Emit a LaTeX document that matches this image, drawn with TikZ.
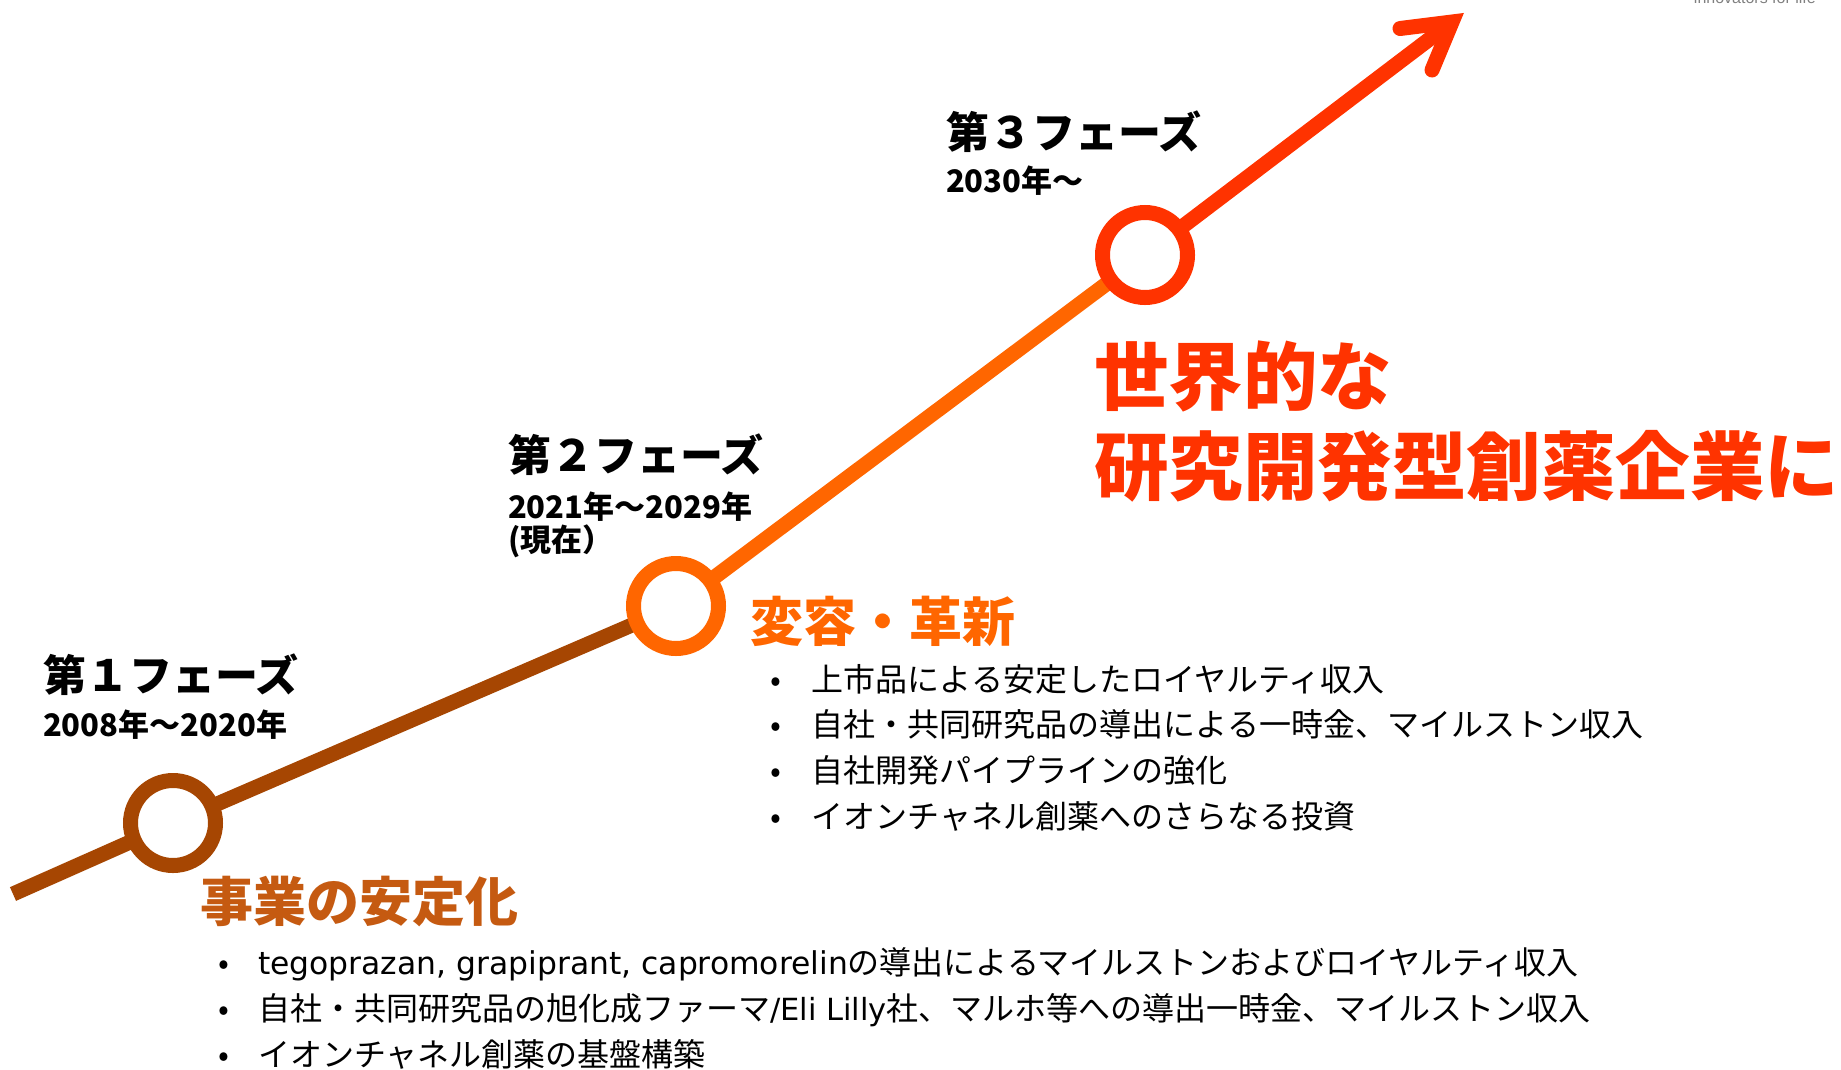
\documentclass[tikz,border=0pt]{standalone}
\usepackage{fontspec}
\setmainfont{Noto Sans CJK JP}
\newfontfamily\logofont{Liberation Sans}
\newfontfamily\latinfont{DejaVu Sans}
\definecolor{cbrown}{RGB}{166,70,2}
\definecolor{corange}{RGB}{255,102,0}
\definecolor{cred}{RGB}{255,51,0}
\definecolor{ctitleone}{RGB}{197,90,17}
\begin{document}
\begin{tikzpicture}[x=1pt,y=-1pt,
  ring/.style={circle, draw, fill=white, line width=15pt, minimum size=85pt, inner sep=0pt, outer sep=0pt},
  track/.style={line width=15pt},
  txt/.style={anchor=west, inner sep=0pt, outer sep=0pt},
  phase/.style={txt, font=\bfseries\fontsize{43}{48}\selectfont},
  period/.style={txt, font=\bfseries\fontsize{31}{34}\selectfont},
  goal/.style={txt, text=cred, font=\bfseries\fontsize{74.5}{80}\selectfont},
  theme/.style={txt, font=\bfseries\fontsize{53}{58}\selectfont},
  bulletline/.style={txt, font=\fontsize{32}{36}\selectfont}
]
\useasboundingbox (0,0) rectangle (1841,1069);

% track coordinates
\coordinate (p0) at (13,894);
\coordinate (p1) at (173,823);
\coordinate (p2) at (676,606);
\coordinate (p3) at (1145,255);
\coordinate (av) at (1452,22);
\coordinate (ab1) at (1400,28.5);
\coordinate (ab2) at (1432,70);

\draw[track, cbrown] (p0) -- (p1) -- (p2);
\draw[track, corange] (p2) -- (p3);
\draw[track, cred] (p3) -- (av);
\draw[track, cred, line cap=round, line join=miter] (ab1) -- (av) -- (ab2);

\node[ring, draw=cbrown] (c1) at (p1) {};
\node[ring, draw=corange] (c2) at (p2) {};
\node[ring, draw=cred] (c3) at (p3) {};

% logo text (cut at top, as in the reference)
\node[anchor=base east, inner sep=0pt, text=black!50, font=\logofont\fontsize{16}{18}\selectfont] (logo) at (1816,3) {innovators for life};

% phase labels
\node[phase] (ph1) at (43,675) {第１フェーズ};
\node[period] (pd1) at (43,725) {2008年～2020年};
\node[phase] (ph2) at (508,455) {第２フェーズ};
\node[period] (pd2) at (508,507) {2021年～2029年};
\node[period] (pd2b) at (508,541) {(現在）};
\node[phase] (ph3) at (946,132) {第３フェーズ};
\node[period] (pd3) at (946,181) {2030年～};

% goal
\node[goal] (g1) at (1094,376) {世界的な};
\node[goal] (g2) at (1094,466) {研究開発型創薬企業に};

% phase 2 theme
\node[theme, text=corange] (t2) at (750,621) {変容・革新};
\node[bulletline] (b21) at (770,679) {\makebox[42pt][l]{•}上市品による安定したロイヤルティ収入};
\node[bulletline] (b22) at (770,724) {\makebox[42pt][l]{•}自社・共同研究品の導出による一時金、マイルストン収入};
\node[bulletline] (b23) at (770,770) {\makebox[42pt][l]{•}自社開発パイプラインの強化};
\node[bulletline] (b24) at (770,816) {\makebox[42pt][l]{•}イオンチャネル創薬へのさらなる投資};

% phase 1 theme
\node[theme, text=ctitleone] (t1) at (200,902) {事業の安定化};
\node[bulletline] (b11) at (218,964) {\makebox[40pt][l]{•}{\latinfont\fontsize{31.4}{36}\selectfont tegoprazan, grapiprant, capromorelin}の導出によるマイルストンおよびロイヤルティ収入};
\node[bulletline] (b12) at (218,1010) {\makebox[40pt][l]{•}自社・共同研究品の旭化成ファーマ{\latinfont\fontsize{30.5}{36}\selectfont /Eli Lilly}社、マルホ等への導出一時金、マイルストン収入};
\node[bulletline] (b13) at (218,1054) {\makebox[40pt][l]{•}イオンチャネル創薬の基盤構築};
\end{tikzpicture}
\end{document}
